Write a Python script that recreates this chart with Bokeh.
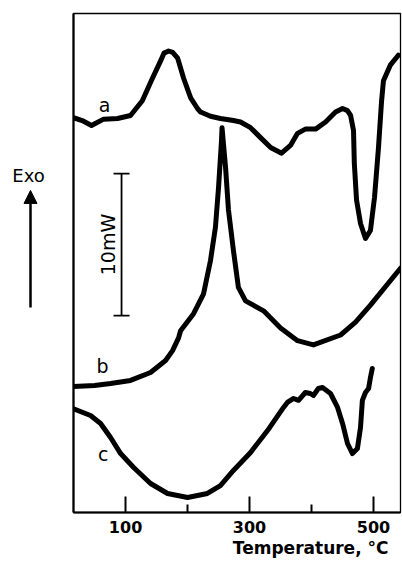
from bokeh.plotting import figure
from bokeh.layouts import row
from bokeh.models import Range1d, FixedTicker, Label, Whisker, Arrow, NormalHead, TeeHead, Title
from bokeh.embed import file_html
from bokeh.resources import INLINE

# Temperature (deg C) and heat flow (mW, arbitrary offset)
temp_a = [16, 30, 45, 64.5, 87, 108, 127, 143.5, 156.5, 162, 169.4, 176, 184, 193.5, 205, 216, 221,
          237, 253, 274, 285.5, 301.6, 317.7, 334, 351.6, 366, 377.4, 390, 406.5, 422.6, 438.7, 450,
          458, 463, 467.7, 469, 472.6, 479, 487, 495, 501.6, 508, 513, 516, 527, 540]
sig_a = [27.8, 27.6, 27.25, 27.7, 27.75, 27.96, 29.0, 30.6, 31.8, 32.35, 32.5, 32.4, 32.0, 30.6, 29.2,
         28.45, 28.2, 27.9, 27.75, 27.6, 27.5, 27.1, 26.4, 25.7, 25.3, 25.85, 26.7, 27.0, 27.0, 27.5,
         28.2, 28.45, 28.3, 27.96, 26.9, 24.6, 22.0, 20.35, 19.3, 19.86, 22.2, 25.7, 29.0, 30.4, 31.5,
         32.2]

temp_b = [16, 50, 75.8, 108, 140.3, 164.5, 175.8, 185.5, 188.7, 209.7, 225.8, 237, 245, 250, 254.8,
          255.6, 261.3, 266, 274, 282, 293.5, 322.6, 350, 377.4, 403, 446.8, 471, 495, 543.5]
sig_b = [8.87, 8.95, 9.08, 9.3, 9.86, 10.7, 11.4, 12.3, 12.8, 14.0, 15.4, 17.75, 20.1, 22.9, 26.2,
         27.1, 24.3, 21.3, 18.45, 15.85, 14.9, 14.2, 13.0, 12.1, 11.8, 12.5, 13.4, 14.6, 17.2]

temp_c = [16, 43.5, 59.7, 75.8, 92, 113, 140.3, 167.7, 200, 232, 253, 274, 301.6, 329, 354.8, 361,
          371, 379, 390, 398, 403, 411, 417.7, 430.6, 442, 450, 458, 466, 474, 479, 482, 487, 492,
          495, 498]
sig_c = [7.3, 6.83, 6.27, 5.28, 4.15, 3.17, 2.04, 1.34, 1.06, 1.34, 1.9, 2.96, 4.23, 5.77, 7.4, 7.75,
         8.03, 7.9, 8.45, 8.38, 8.24, 8.73, 8.8, 8.38, 7.4, 6.27, 4.86, 4.15, 4.5, 6.0, 7.9, 8.45, 8.73,
         9.5, 10.14]

major_ticks = [100, 300, 500]
minor_ticks = [200, 400]
curve_names = ["a", "b", "c"]
curve_label_pos = [(66, 28.7), (63, 10.3), (64, 4.1)]
scale_bar = (93.5, 13.87, 23.87)  # x position, lower, upper (10 mW)

FONT = "DejaVu Sans"
H = 562
TOP, BOTTOM = 13, 50

yr = Range1d(0, 35.14)

# left strip with the "Exo" direction marker
pl = figure(width=65, height=H, x_range=Range1d(0, 65), y_range=yr, output_backend="svg",
            toolbar_location=None, x_axis_type=None, y_axis_type=None,
            min_border_left=0, min_border_right=0, min_border_top=TOP, min_border_bottom=BOTTOM)
pl.grid.visible = False
pl.outline_line_color = None
pl.add_layout(Label(x=28, y=23.7, text="Exo", text_font=FONT, text_font_size="18px",
                    text_color="black", text_align="center", text_baseline="middle"))
pl.add_layout(Arrow(x_start=30, y_start=14.44, x_end=30, y_end=22.68, line_width=2.5,
                    end=NormalHead(size=13, fill_color="black", line_color="black")))

p = figure(width=337, height=H, x_range=Range1d(16, 543.5), y_range=yr,
           output_backend="svg", toolbar_location=None,
           min_border_left=8, min_border_right=2, min_border_top=TOP, min_border_bottom=BOTTOM)
p.grid.visible = False
p.outline_line_color = "black"
p.outline_line_width = 1.3

xa = p.xaxis[0]
xa.ticker = FixedTicker(ticks=major_ticks, minor_ticks=minor_ticks)
xa.axis_line_width = 2.2
xa.major_tick_in = 16
xa.major_tick_out = 0
xa.minor_tick_in = 8
xa.minor_tick_out = 0
xa.major_tick_line_width = 2
xa.minor_tick_line_width = 2
xa.major_label_text_font = FONT
xa.major_label_text_font_style = "bold"
xa.major_label_text_font_size = "16px"
xa.major_label_text_color = "black"
xa.major_label_standoff = 8

ya = p.yaxis[0]
ya.ticker = FixedTicker(ticks=[])
ya.axis_line_width = 2.2
ya.major_tick_in = 0
ya.major_tick_out = 0
ya.minor_tick_in = 0
ya.minor_tick_out = 0
ya.major_label_text_font_size = "0px"

p.add_layout(Title(text="Temperature, \u00b0C", align="right", offset=12, text_font=FONT,
                   text_font_style="bold", text_font_size="17px", text_color="black",
                   standoff=0), "below")

for t, s in [(temp_a, sig_a), (temp_b, sig_b), (temp_c, sig_c)]:
    p.line(t, s, line_color="black", line_width=5, line_join="round", line_cap="round")

for name, (lx, ly) in zip(curve_names, curve_label_pos):
    p.add_layout(Label(x=lx, y=ly, text=name, text_font=FONT, text_font_size="19px",
                       text_align="center", text_baseline="middle", text_color="black"))

p.add_layout(Whisker(base=scale_bar[0], lower=scale_bar[1], upper=scale_bar[2], dimension="height",
                     line_width=1.8, line_color="black",
                     upper_head=TeeHead(size=16, line_width=1.8),
                     lower_head=TeeHead(size=16, line_width=1.8)))
p.add_layout(Label(x=72, y=18.87, text="10mW", angle=90, angle_units="deg", text_font=FONT,
                   text_font_size="19px", text_color="black",
                   text_align="center", text_baseline="middle"))

layout = row(pl, p)
open("out.html", "w").write(file_html(layout, INLINE))
